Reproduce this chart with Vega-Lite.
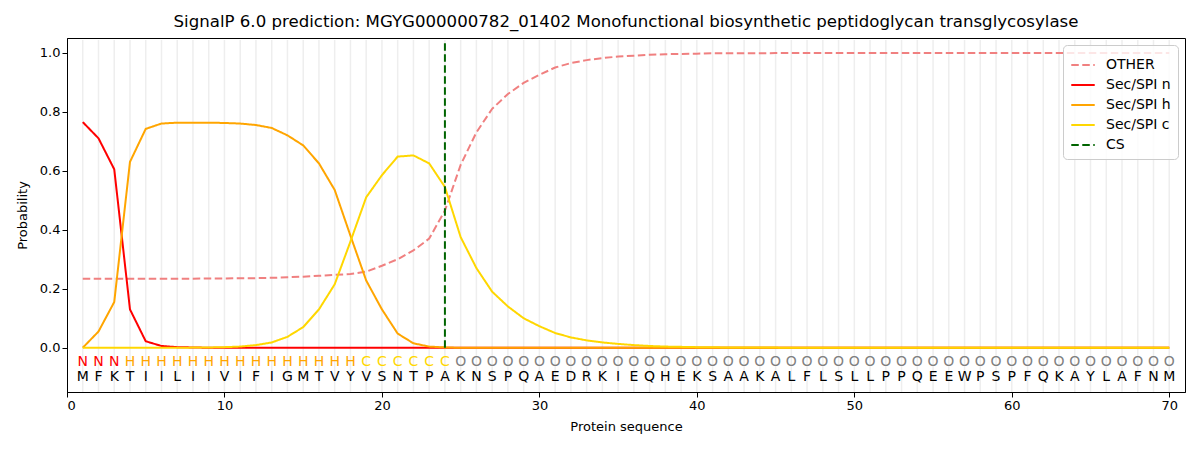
{
  "$schema": "https://vega.github.io/schema/vega-lite/v6.json",
  "autosize": {"type": "none"},
  "width": 1118,
  "height": 354,
  "padding": {"left": 67, "top": 38, "right": 15, "bottom": 58},
  "config": {
    "font": "DejaVu Sans",
    "view": {"stroke": "black", "strokeWidth": 1},
    "axis": {"labelFont": "DejaVu Sans", "titleFont": "DejaVu Sans", "labelFontSize": 13, "titleFontSize": 13, "titleFontWeight": "normal", "labelColor": "black", "titleColor": "black", "domainColor": "black", "tickColor": "black", "tickSize": 5}
  },
  "title": {"text": "SignalP 6.0 prediction: MGYG000000782_01402 Monofunctional biosynthetic peptidoglycan transglycosylase", "fontSize": 16.6, "fontWeight": "normal", "font": "DejaVu Sans", "color": "black", "offset": 7},
  "datasets": {
    "seq": [
      {"pos": 1, "aa": "M", "label": "N", "OTHER": 0.234, "Sec/SPI n": 0.765, "Sec/SPI h": 0.0, "Sec/SPI c": 0.0},
      {"pos": 2, "aa": "F", "label": "N", "OTHER": 0.234, "Sec/SPI n": 0.71, "Sec/SPI h": 0.055, "Sec/SPI c": 0.0},
      {"pos": 3, "aa": "K", "label": "N", "OTHER": 0.234, "Sec/SPI n": 0.605, "Sec/SPI h": 0.155, "Sec/SPI c": 0.0},
      {"pos": 4, "aa": "T", "label": "H", "OTHER": 0.234, "Sec/SPI n": 0.13, "Sec/SPI h": 0.63, "Sec/SPI c": 0.0},
      {"pos": 5, "aa": "I", "label": "H", "OTHER": 0.234, "Sec/SPI n": 0.022, "Sec/SPI h": 0.742, "Sec/SPI c": 0.0},
      {"pos": 6, "aa": "I", "label": "H", "OTHER": 0.234, "Sec/SPI n": 0.006, "Sec/SPI h": 0.76, "Sec/SPI c": 0.0},
      {"pos": 7, "aa": "L", "label": "H", "OTHER": 0.234, "Sec/SPI n": 0.002, "Sec/SPI h": 0.763, "Sec/SPI c": 0.0},
      {"pos": 8, "aa": "I", "label": "H", "OTHER": 0.234, "Sec/SPI n": 0.001, "Sec/SPI h": 0.763, "Sec/SPI c": 0.0005},
      {"pos": 9, "aa": "I", "label": "H", "OTHER": 0.235, "Sec/SPI n": 0.0, "Sec/SPI h": 0.763, "Sec/SPI c": 0.001},
      {"pos": 10, "aa": "V", "label": "H", "OTHER": 0.235, "Sec/SPI n": 0.0, "Sec/SPI h": 0.762, "Sec/SPI c": 0.002},
      {"pos": 11, "aa": "I", "label": "H", "OTHER": 0.236, "Sec/SPI n": 0.0, "Sec/SPI h": 0.76, "Sec/SPI c": 0.004},
      {"pos": 12, "aa": "F", "label": "H", "OTHER": 0.236, "Sec/SPI n": 0.0, "Sec/SPI h": 0.755, "Sec/SPI c": 0.009},
      {"pos": 13, "aa": "I", "label": "H", "OTHER": 0.237, "Sec/SPI n": 0.0, "Sec/SPI h": 0.745, "Sec/SPI c": 0.018},
      {"pos": 14, "aa": "G", "label": "H", "OTHER": 0.239, "Sec/SPI n": 0.0, "Sec/SPI h": 0.72, "Sec/SPI c": 0.037},
      {"pos": 15, "aa": "M", "label": "H", "OTHER": 0.241, "Sec/SPI n": 0.0, "Sec/SPI h": 0.686, "Sec/SPI c": 0.07},
      {"pos": 16, "aa": "T", "label": "H", "OTHER": 0.244, "Sec/SPI n": 0.0, "Sec/SPI h": 0.625, "Sec/SPI c": 0.13},
      {"pos": 17, "aa": "V", "label": "H", "OTHER": 0.247, "Sec/SPI n": 0.0, "Sec/SPI h": 0.535, "Sec/SPI c": 0.215},
      {"pos": 18, "aa": "Y", "label": "H", "OTHER": 0.25, "Sec/SPI n": 0.0, "Sec/SPI h": 0.38, "Sec/SPI c": 0.36},
      {"pos": 19, "aa": "V", "label": "C", "OTHER": 0.258, "Sec/SPI n": 0.0, "Sec/SPI h": 0.228, "Sec/SPI c": 0.51},
      {"pos": 20, "aa": "S", "label": "C", "OTHER": 0.278, "Sec/SPI n": 0.0, "Sec/SPI h": 0.13, "Sec/SPI c": 0.585},
      {"pos": 21, "aa": "N", "label": "C", "OTHER": 0.3, "Sec/SPI n": 0.0, "Sec/SPI h": 0.048, "Sec/SPI c": 0.648},
      {"pos": 22, "aa": "T", "label": "C", "OTHER": 0.33, "Sec/SPI n": 0.0, "Sec/SPI h": 0.015, "Sec/SPI c": 0.652},
      {"pos": 23, "aa": "P", "label": "C", "OTHER": 0.37, "Sec/SPI n": 0.0, "Sec/SPI h": 0.004, "Sec/SPI c": 0.625},
      {"pos": 24, "aa": "A", "label": "C", "OTHER": 0.465, "Sec/SPI n": 0.0, "Sec/SPI h": 0.001, "Sec/SPI c": 0.545},
      {"pos": 25, "aa": "K", "label": "O", "OTHER": 0.62, "Sec/SPI n": 0.0, "Sec/SPI h": 0.0, "Sec/SPI c": 0.375},
      {"pos": 26, "aa": "N", "label": "O", "OTHER": 0.73, "Sec/SPI n": 0.0, "Sec/SPI h": 0.0, "Sec/SPI c": 0.27},
      {"pos": 27, "aa": "S", "label": "O", "OTHER": 0.81, "Sec/SPI n": 0.0, "Sec/SPI h": 0.0, "Sec/SPI c": 0.19},
      {"pos": 28, "aa": "P", "label": "O", "OTHER": 0.86, "Sec/SPI n": 0.0, "Sec/SPI h": 0.0, "Sec/SPI c": 0.14},
      {"pos": 29, "aa": "Q", "label": "O", "OTHER": 0.898, "Sec/SPI n": 0.0, "Sec/SPI h": 0.0, "Sec/SPI c": 0.1},
      {"pos": 30, "aa": "A", "label": "O", "OTHER": 0.925, "Sec/SPI n": 0.0, "Sec/SPI h": 0.0, "Sec/SPI c": 0.073},
      {"pos": 31, "aa": "E", "label": "O", "OTHER": 0.95, "Sec/SPI n": 0.0, "Sec/SPI h": 0.0, "Sec/SPI c": 0.05},
      {"pos": 32, "aa": "D", "label": "O", "OTHER": 0.965, "Sec/SPI n": 0.0, "Sec/SPI h": 0.0, "Sec/SPI c": 0.035},
      {"pos": 33, "aa": "R", "label": "O", "OTHER": 0.975, "Sec/SPI n": 0.0, "Sec/SPI h": 0.0, "Sec/SPI c": 0.025},
      {"pos": 34, "aa": "K", "label": "O", "OTHER": 0.982, "Sec/SPI n": 0.0, "Sec/SPI h": 0.0, "Sec/SPI c": 0.018},
      {"pos": 35, "aa": "I", "label": "O", "OTHER": 0.987, "Sec/SPI n": 0.0, "Sec/SPI h": 0.0, "Sec/SPI c": 0.013},
      {"pos": 36, "aa": "E", "label": "O", "OTHER": 0.99, "Sec/SPI n": 0.0, "Sec/SPI h": 0.0, "Sec/SPI c": 0.009},
      {"pos": 37, "aa": "Q", "label": "O", "OTHER": 0.993, "Sec/SPI n": 0.0, "Sec/SPI h": 0.0, "Sec/SPI c": 0.006},
      {"pos": 38, "aa": "H", "label": "O", "OTHER": 0.995, "Sec/SPI n": 0.0, "Sec/SPI h": 0.0, "Sec/SPI c": 0.004},
      {"pos": 39, "aa": "E", "label": "O", "OTHER": 0.996, "Sec/SPI n": 0.0, "Sec/SPI h": 0.0, "Sec/SPI c": 0.003},
      {"pos": 40, "aa": "K", "label": "O", "OTHER": 0.997, "Sec/SPI n": 0.0, "Sec/SPI h": 0.0, "Sec/SPI c": 0.002},
      {"pos": 41, "aa": "S", "label": "O", "OTHER": 0.998, "Sec/SPI n": 0.0, "Sec/SPI h": 0.0, "Sec/SPI c": 0.0015},
      {"pos": 42, "aa": "A", "label": "O", "OTHER": 0.998, "Sec/SPI n": 0.0, "Sec/SPI h": 0.0, "Sec/SPI c": 0.001},
      {"pos": 43, "aa": "A", "label": "O", "OTHER": 0.998, "Sec/SPI n": 0.0, "Sec/SPI h": 0.0, "Sec/SPI c": 0.001},
      {"pos": 44, "aa": "K", "label": "O", "OTHER": 0.998, "Sec/SPI n": 0.0, "Sec/SPI h": 0.0, "Sec/SPI c": 0.001},
      {"pos": 45, "aa": "A", "label": "O", "OTHER": 0.999, "Sec/SPI n": 0.0, "Sec/SPI h": 0.0, "Sec/SPI c": 0.0005},
      {"pos": 46, "aa": "L", "label": "O", "OTHER": 0.999, "Sec/SPI n": 0.0, "Sec/SPI h": 0.0, "Sec/SPI c": 0.0},
      {"pos": 47, "aa": "F", "label": "O", "OTHER": 0.999, "Sec/SPI n": 0.0, "Sec/SPI h": 0.0, "Sec/SPI c": 0.0},
      {"pos": 48, "aa": "L", "label": "O", "OTHER": 0.999, "Sec/SPI n": 0.0, "Sec/SPI h": 0.0, "Sec/SPI c": 0.0},
      {"pos": 49, "aa": "S", "label": "O", "OTHER": 0.999, "Sec/SPI n": 0.0, "Sec/SPI h": 0.0, "Sec/SPI c": 0.0},
      {"pos": 50, "aa": "L", "label": "O", "OTHER": 0.999, "Sec/SPI n": 0.0, "Sec/SPI h": 0.0, "Sec/SPI c": 0.0},
      {"pos": 51, "aa": "L", "label": "O", "OTHER": 0.999, "Sec/SPI n": 0.0, "Sec/SPI h": 0.0, "Sec/SPI c": 0.0},
      {"pos": 52, "aa": "P", "label": "O", "OTHER": 0.999, "Sec/SPI n": 0.0, "Sec/SPI h": 0.0, "Sec/SPI c": 0.0},
      {"pos": 53, "aa": "P", "label": "O", "OTHER": 0.999, "Sec/SPI n": 0.0, "Sec/SPI h": 0.0, "Sec/SPI c": 0.0},
      {"pos": 54, "aa": "Q", "label": "O", "OTHER": 0.999, "Sec/SPI n": 0.0, "Sec/SPI h": 0.0, "Sec/SPI c": 0.0},
      {"pos": 55, "aa": "E", "label": "O", "OTHER": 0.999, "Sec/SPI n": 0.0, "Sec/SPI h": 0.0, "Sec/SPI c": 0.0},
      {"pos": 56, "aa": "E", "label": "O", "OTHER": 0.999, "Sec/SPI n": 0.0, "Sec/SPI h": 0.0, "Sec/SPI c": 0.0},
      {"pos": 57, "aa": "W", "label": "O", "OTHER": 0.999, "Sec/SPI n": 0.0, "Sec/SPI h": 0.0, "Sec/SPI c": 0.0},
      {"pos": 58, "aa": "P", "label": "O", "OTHER": 0.999, "Sec/SPI n": 0.0, "Sec/SPI h": 0.0, "Sec/SPI c": 0.0},
      {"pos": 59, "aa": "S", "label": "O", "OTHER": 0.999, "Sec/SPI n": 0.0, "Sec/SPI h": 0.0, "Sec/SPI c": 0.0},
      {"pos": 60, "aa": "P", "label": "O", "OTHER": 0.999, "Sec/SPI n": 0.0, "Sec/SPI h": 0.0, "Sec/SPI c": 0.0},
      {"pos": 61, "aa": "F", "label": "O", "OTHER": 0.999, "Sec/SPI n": 0.0, "Sec/SPI h": 0.0, "Sec/SPI c": 0.0},
      {"pos": 62, "aa": "Q", "label": "O", "OTHER": 0.999, "Sec/SPI n": 0.0, "Sec/SPI h": 0.0, "Sec/SPI c": 0.0},
      {"pos": 63, "aa": "K", "label": "O", "OTHER": 0.999, "Sec/SPI n": 0.0, "Sec/SPI h": 0.0, "Sec/SPI c": 0.0},
      {"pos": 64, "aa": "A", "label": "O", "OTHER": 0.999, "Sec/SPI n": 0.0, "Sec/SPI h": 0.0, "Sec/SPI c": 0.0},
      {"pos": 65, "aa": "Y", "label": "O", "OTHER": 0.999, "Sec/SPI n": 0.0, "Sec/SPI h": 0.0, "Sec/SPI c": 0.0},
      {"pos": 66, "aa": "L", "label": "O", "OTHER": 0.999, "Sec/SPI n": 0.0, "Sec/SPI h": 0.0, "Sec/SPI c": 0.0},
      {"pos": 67, "aa": "A", "label": "O", "OTHER": 0.999, "Sec/SPI n": 0.0, "Sec/SPI h": 0.0, "Sec/SPI c": 0.0},
      {"pos": 68, "aa": "F", "label": "O", "OTHER": 0.999, "Sec/SPI n": 0.0, "Sec/SPI h": 0.0, "Sec/SPI c": 0.0},
      {"pos": 69, "aa": "N", "label": "O", "OTHER": 0.999, "Sec/SPI n": 0.0, "Sec/SPI h": 0.0, "Sec/SPI c": 0.0},
      {"pos": 70, "aa": "M", "label": "O", "OTHER": 0.999, "Sec/SPI n": 0.0, "Sec/SPI h": 0.0, "Sec/SPI c": 0.0}
    ],
    "cs": [{"pos": 24, "series": "CS"}]
  },
  "layer": [
    {
      "data": {"name": "seq"},
      "mark": {"type": "rule", "color": "#eeeeee", "strokeWidth": 1.5},
      "encoding": {
        "x": {"field": "pos", "type": "quantitative", "scale": {"domain": [0, 71], "nice": false, "zero": false},
          "axis": {"values": [0, 10, 20, 30, 40, 50, 60, 70], "grid": false, "title": "Protein sequence", "titlePadding": 8}},
        "y": {"datum": -0.15, "scale": {"domain": [-0.15, 1.05], "nice": false, "zero": false},
          "axis": {"values": [0, 0.2, 0.4, 0.6, 0.8, 1.0], "format": ".1f", "grid": false, "title": "Probability", "titlePadding": 10}},
        "y2": {"datum": 1.043}
      }
    },
    {
      "data": {"name": "seq"},
      "transform": [{"fold": ["OTHER", "Sec/SPI n", "Sec/SPI h", "Sec/SPI c"], "as": ["series", "prob"]}],
      "mark": {"type": "line", "strokeWidth": 2},
      "encoding": {
        "x": {"field": "pos", "type": "quantitative"},
        "y": {"field": "prob", "type": "quantitative"},
        "color": {"field": "series", "type": "nominal",
          "scale": {"domain": ["OTHER", "Sec/SPI n", "Sec/SPI h", "Sec/SPI c", "CS"], "range": ["#f08080", "#ff0000", "#ffa500", "#ffd700", "#006400"]},
          "legend": {"title": null, "orient": "top-right", "offset": 7, "symbolType": "stroke", "symbolSize": 550, "symbolStrokeWidth": 2, "labelFontSize": 14, "labelFont": "DejaVu Sans", "labelColor": "black", "labelOffset": 10, "strokeColor": "#cccccc", "fillColor": "rgba(255,255,255,0.8)", "padding": 7, "cornerRadius": 4, "rowPadding": 0}},
        "strokeDash": {"field": "series", "type": "nominal",
          "scale": {"domain": ["OTHER", "Sec/SPI n", "Sec/SPI h", "Sec/SPI c", "CS"], "range": [[7.5, 3.5], [1, 0], [1, 0], [1, 0], [7.5, 3.5]]},
          "legend": {"title": null}},
        "order": {"field": "pos", "type": "quantitative"}
      }
    },
    {
      "data": {"name": "cs"},
      "mark": {"type": "rule", "strokeWidth": 2},
      "encoding": {
        "x": {"field": "pos", "type": "quantitative"},
        "y": {"datum": 0},
        "y2": {"datum": 1.035},
        "color": {"field": "series", "type": "nominal"},
        "strokeDash": {"field": "series", "type": "nominal"}
      }
    },
    {
      "data": {"name": "seq"},
      "mark": {"type": "text", "fontSize": 14, "font": "DejaVu Sans", "baseline": "middle", "align": "center"},
      "encoding": {
        "x": {"field": "pos", "type": "quantitative"},
        "y": {"datum": -0.047},
        "text": {"field": "label"},
        "color": {"value": "#808080", "condition": [
          {"test": "datum.label === 'N'", "value": "#ff0000"},
          {"test": "datum.label === 'H'", "value": "#ffa500"},
          {"test": "datum.label === 'C'", "value": "#ffd700"}
        ]}
      }
    },
    {
      "data": {"name": "seq"},
      "mark": {"type": "text", "fontSize": 14, "font": "DejaVu Sans", "baseline": "middle", "align": "center", "color": "black"},
      "encoding": {
        "x": {"field": "pos", "type": "quantitative"},
        "y": {"datum": -0.1},
        "text": {"field": "aa"}
      }
    }
  ]
}
